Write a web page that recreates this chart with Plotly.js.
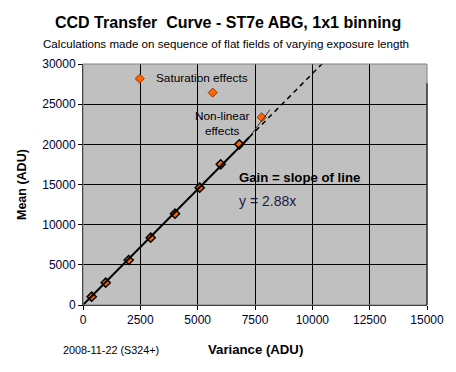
<!DOCTYPE html>
<html>
<head>
<meta charset="utf-8">
<script src="https://cdn.plot.ly/plotly-3.0.1.min.js"></script>
<style>html,body{margin:0;padding:0;background:#fff;}#chart{width:456px;height:372px;}</style>
</head>
<body>
<div id="chart"></div>
<script>
// Linear-region measurements (variance, mean)
const linVariance = [379, 990, 1993, 2952, 4012, 5089, 6005, 6817];
const linMean     = [1033, 2776, 5602, 8378, 11366, 14602, 17515, 20005];
// Non-linear / saturation points
const nlVariance = [7793, 5656, 2472];
const nlMean     = [23364, 26434, 28176];
// Fitted gain (slope of line)
const gainSlope = 2.88;
const fitSolidX = [0, 7250];
const fitDashX  = [7250, 10600];
// thin connector toward the non-linear point
const connX = [7000, 8150];
const connY = [19950, 24300];
const xTicks = [0, 2500, 5000, 7500, 10000, 12500, 15000];
const yTicks = [0, 5000, 10000, 15000, 20000, 25000, 30000];

const FONT = 'Liberation Sans, Arial, sans-serif';
const traces = [
  {x: linVariance, y: linMean, type: 'scatter', mode: 'markers',
   marker: {symbol: 'diamond', size: 7, color: '#FF6600', line: {color: '#000000', width: 1.5}},
   hoverinfo: 'skip', showlegend: false},
  {x: nlVariance, y: nlMean, type: 'scatter', mode: 'markers',
   marker: {symbol: 'diamond', size: 7, color: '#FF6600', line: {color: '#993300', width: 1}},
   hoverinfo: 'skip', showlegend: false},
  {x: connX, y: connY, type: 'scatter', mode: 'lines',
   line: {color: '#333333', width: 1}, hoverinfo: 'skip', showlegend: false},
  {x: fitSolidX, y: fitSolidX.map(v => v * gainSlope), type: 'scatter', mode: 'lines',
   line: {color: '#000000', width: 2}, hoverinfo: 'skip', showlegend: false},
  {x: fitDashX, y: fitDashX.map(v => v * gainSlope), type: 'scatter', mode: 'lines',
   line: {color: '#000000', width: 1.5, dash: '5px,4px'}, hoverinfo: 'skip', showlegend: false}
];

const layout = {
  width: 456, height: 372,
  margin: {l: 83, r: 29, t: 64, b: 67, pad: 0},
  paper_bgcolor: '#ffffff', plot_bgcolor: '#C0C0C0',
  font: {family: FONT, size: 11, color: '#000000'},
  showlegend: false,
  xaxis: {range: [0, 15000], tickvals: xTicks, ticktext: xTicks.map(String),
    showgrid: true, gridcolor: '#000000', gridwidth: 1, zeroline: false,
    showline: true, linecolor: '#000000', linewidth: 1,
    ticks: 'outside', ticklen: 4, tickcolor: '#000000',
    tickfont: {family: FONT, size: 12, color: '#000033'}, fixedrange: true},
  yaxis: {range: [0, 30000], tickvals: yTicks, ticktext: yTicks.map(String),
    showgrid: true, gridcolor: '#000000', gridwidth: 1, zeroline: false,
    showline: true, linecolor: '#000000', linewidth: 1,
    ticks: 'outside', ticklen: 4, tickcolor: '#000000',
    tickfont: {family: FONT, size: 12, color: '#000033'}, fixedrange: true},
  shapes: [
    {type: 'rect', xref: 'paper', yref: 'paper', x0: 0, x1: 1, y0: 0, y1: 1,
     line: {color: '#808080', width: 1}, layer: 'above'},
    {type: 'line', xref: 'paper', yref: 'paper', x0: 1, x1: 1, y0: 0, y1: 0.92,
     line: {color: '#000000', width: 1}, layer: 'above'}
  ],
  annotations: [
    {text: '<b>CCD Transfer\u00A0 Curve - ST7e ABG, 1x1 binning</b>', xref: 'paper', yref: 'paper',
     x: (227.5 - 83) / 344, y: (305 - 22.5) / 241, showarrow: false, xanchor: 'center', yanchor: 'middle',
     font: {family: FONT, size: 16, color: '#000000'}},
    {text: 'Calculations made on sequence of flat fields of varying exposure length', xref: 'paper', yref: 'paper',
     x: (225.5 - 83) / 344, y: (305 - 43.5) / 241, showarrow: false, xanchor: 'center', yanchor: 'middle',
     font: {family: FONT, size: 11.6, color: '#000000'}},
    {text: 'Saturation effects', xref: 'paper', yref: 'paper',
     x: (201.5 - 83) / 344, y: (305 - 77.5) / 241, showarrow: false, xanchor: 'center', yanchor: 'middle',
     font: {family: FONT, size: 11.8, color: '#000000'}},
    {text: 'Non-linear<br>effects', xref: 'paper', yref: 'paper',
     x: (221.5 - 83) / 344, y: (305 - 123) / 241, showarrow: false, xanchor: 'center', yanchor: 'middle',
     align: 'center', font: {family: FONT, size: 11.8, color: '#000000'}},
    {text: '<b>Gain = slope of line</b>', xref: 'paper', yref: 'paper',
     x: (237 - 83) / 344, y: (305 - 177.5) / 241, showarrow: false, xanchor: 'left', yanchor: 'middle',
     font: {family: FONT, size: 13.2, color: '#000000'}},
    {text: 'y = 2.88x', xref: 'paper', yref: 'paper',
     x: (237 - 83) / 344, y: (305 - 200.5) / 241, showarrow: false, xanchor: 'left', yanchor: 'middle',
     font: {family: FONT, size: 14, color: '#1a1a40'}},
    {text: '<b>Variance (ADU)</b>', xref: 'paper', yref: 'paper',
     x: (255.5 - 83) / 344, y: (305 - 349) / 241, showarrow: false, xanchor: 'center', yanchor: 'middle',
     font: {family: FONT, size: 13.2, color: '#000000'}},
    {text: '<b>Mean (ADU)</b>', xref: 'paper', yref: 'paper', textangle: -90,
     x: (22 - 83) / 344, y: (305 - 185) / 241, showarrow: false, xanchor: 'center', yanchor: 'middle',
     font: {family: FONT, size: 12.5, color: '#000000'}},
    {text: '2008-11-22 (S324+)', xref: 'paper', yref: 'paper',
     x: (110.5 - 83) / 344, y: (305 - 350) / 241, showarrow: false, xanchor: 'center', yanchor: 'middle',
     font: {family: FONT, size: 10.8, color: '#000000'}}
  ]
};
Plotly.newPlot('chart', traces, layout, {staticPlot: true, displayModeBar: false});
</script>
</body>
</html>
